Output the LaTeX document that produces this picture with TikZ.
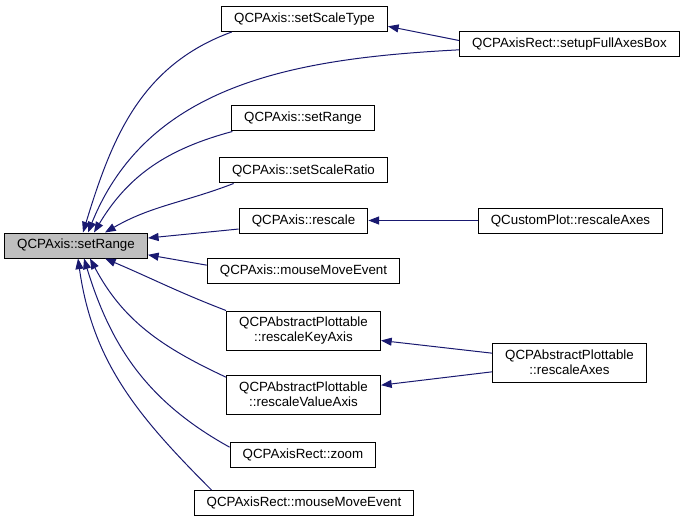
\documentclass[tikz,border=0pt]{standalone}
\usepackage{fontspec}
\setmainfont{Liberation Sans}
\usepackage{tikz}
\usetikzlibrary{positioning,arrows.meta}
\definecolor{edgeblue}{HTML}{191970}

\begin{document}
\begin{tikzpicture}[x=0.75pt,y=0.75pt,
  fn/.style={draw,line width=0.75pt,font=\fontsize{10}{11.5}\selectfont,
    inner xsep=9.5pt,inner ysep=0pt,minimum height=18.75pt,align=center},
  cur/.style={fn,fill=black!25},
  two/.style={minimum height=29.25pt},
  ar/.style={edgeblue,line width=0.75pt,-{Triangle[length=8pt,width=6pt]}}]
\useasboundingbox (0,0) rectangle (685,-524);
% the function itself
\node[cur] (main) at (76,-245.5) {QCPAxis::setRange};
% direct callers
\node[fn] (sst) at (304.5,-19) {QCPAxis::setScaleType};
\node[fn] (srange) at (303,-118.5) {QCPAxis::setRange};
\node[fn] (sratio) at (303.5,-170.5) {QCPAxis::setScaleRatio};
\node[fn] (resc) at (303.5,-220.5) {QCPAxis::rescale};
\node[fn] (mme) at (303.5,-270.5) {QCPAxis::mouseMoveEvent};
\node[fn,two] (rka) at (303.5,-330.5) {QCPAbstractPlottable\\::rescaleKeyAxis};
\node[fn,two] (rva) at (303.5,-394.5) {QCPAbstractPlottable\\::rescaleValueAxis};
\node[fn] (zoom) at (303,-454.5) {QCPAxisRect::zoom};
\node[fn] (rmme) at (304,-503) {QCPAxisRect::mouseMoveEvent};
% second level callers
\node[fn] (sfab) at (569.5,-44.5) {QCPAxisRect::setupFullAxesBox};
\node[fn] (cprescale) at (570.5,-220.5) {QCustomPlot::rescaleAxes};
\node[fn,two] (aprescale) at (569.5,-362.5) {QCPAbstractPlottable\\::rescaleAxes};
% edges into setRange
\draw[ar] ([xshift=8pt]sst.south west) to[out=200,in=73] ([xshift=5.25pt]main.north);
\draw[ar] ([yshift=-4pt]sfab.west) to[out=183,in=68] ([xshift=9pt]main.north);
\draw[ar] ([xshift=1pt]srange.south west) to[out=195,in=59] ([xshift=13.5pt]main.north);
\draw[ar] ([xshift=11pt]sratio.south west) to[out=201,in=30] ([xshift=21.75pt]main.north);
\draw[ar] ([yshift=-6.4pt]resc.west) -- ([yshift=5.6pt]main.east);
\draw[ar] ([yshift=4pt]mme.west) -- ([yshift=-7pt]main.east);
\draw[ar] (rka.north west) to[out=159,in=-23] ([xshift=21.75pt]main.south);
\draw[ar] ([yshift=-2pt]rva.north west) to[out=155,in=-62] ([xshift=10.5pt]main.south);
\draw[ar] ([yshift=5.5pt]zoom.west) to[out=151,in=-73] ([xshift=6pt]main.south);
\draw[ar] ([xshift=13.5pt]rmme.north west) to[out=135,in=-82] ([xshift=1.5pt]main.south);
% edges from the outer callers
\draw[ar] ([yshift=3pt]sfab.west) -- ([yshift=-5.5pt]sst.east);
\draw[ar] (cprescale.west) -- (resc.east);
\draw[ar] ([yshift=7pt]aprescale.west) -- ([yshift=-7.5pt]rka.east);
\draw[ar] ([yshift=-7pt]aprescale.west) -- ([yshift=7pt]rva.east);
\end{tikzpicture}
\end{document}
